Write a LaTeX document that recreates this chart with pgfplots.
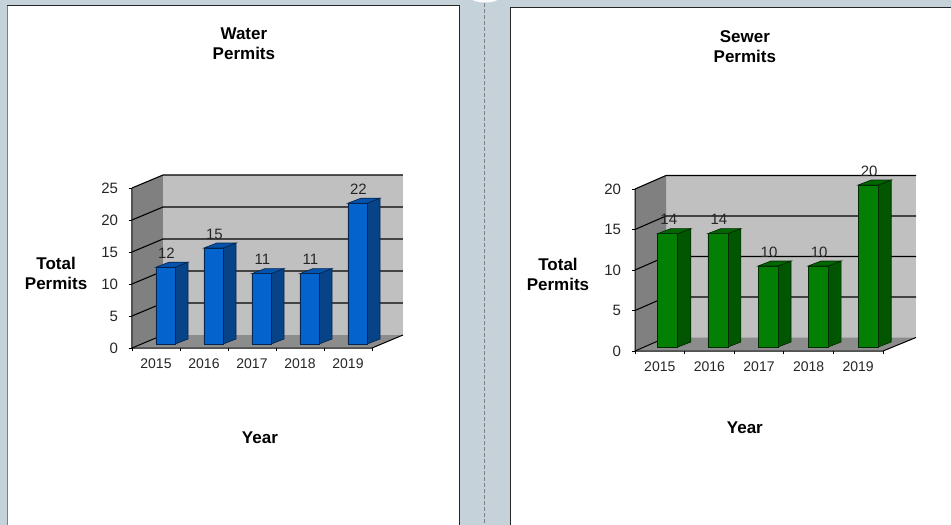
\documentclass[border=0pt]{standalone}
\usepackage{fontspec}
\setmainfont{Liberation Sans}
\usepackage{pgfplots}
\usepackage{pgfplotstable}
\pgfplotsset{compat=1.18}

\definecolor{page}{HTML}{C5D2DA}
\definecolor{wallside}{HTML}{808080}
\definecolor{wallback}{HTML}{C0C0C0}
\definecolor{wallfloor}{HTML}{8C8C8C}
\definecolor{bluefront}{HTML}{0563CE}
\definecolor{blueside}{HTML}{064389}
\definecolor{bluetop}{HTML}{0553AC}
\definecolor{blueedge}{HTML}{03264F}
\definecolor{greenfront}{HTML}{038003}
\definecolor{greenside}{HTML}{025602}
\definecolor{greentop}{HTML}{026602}
\definecolor{greenedge}{HTML}{012B01}

\pgfplotstableread{
x    v
0.5  12
1.5  15
2.5  11
3.5  11
4.5  22
}\waterdata
\pgfplotstableread{
x    v
0.5  14
1.5  14
2.5  10
3.5  10
4.5  20
}\sewerdata

% side and top face of one bar, \bw \ddx \ddy set per chart
\newcommand{\barfaces}[2]{%
  \pgfmathsetmacro\xa{#1+\bw}\pgfmathsetmacro\xb{\xa+\ddx}%
  \pgfmathsetmacro\xc{#1+\ddx}\pgfmathsetmacro\yb{#2+\ddy}%
  \edef\tmp{\noexpand\addplot[fill=\colside,draw=\coledge,line width=.5pt] coordinates
    {(\xa,0) (\xb,\ddy) (\xb,\yb) (\xa,#2)} --cycle;
    \noexpand\addplot[fill=\coltop,draw=\coledge,line width=.5pt] coordinates
    {(#1,#2) (\xc,\yb) (\xb,\yb) (\xa,#2)} --cycle;}\tmp
}
% walls of the box: front plane starts at \ylo, back plane is \wdx,\wdy behind it
\newcommand{\walls}{%
  \pgfmathsetmacro\yf{\ylo+\wdy}\pgfmathsetmacro\ytop{\yhi+\wdy}%
  \edef\tmp{\noexpand\addplot[fill=wallback,draw=none] coordinates
    {(\wdx,\yf) (\xend,\yf) (\xend,\ytop) (\wdx,\ytop)} --cycle;
    \noexpand\addplot[fill=wallside,draw=none] coordinates
    {(0,\ylo) (\wdx,\yf) (\wdx,\ytop) (0,\yhi)} --cycle;
    \noexpand\addplot[fill=wallfloor,draw=none] coordinates
    {(0,\ylo) (5,\ylo) (\xend,\yf) (\wdx,\yf)} --cycle;
    \noexpand\addplot[black,line width=.75pt] coordinates
    {(0,\yhi) (0,\ylo) (5,\ylo) (\xend,\yf)};
    \noexpand\addplot[black,line width=.75pt] coordinates
    {(0,\ylo) (\wdx,\yf)};}\tmp
}
\newcommand{\gridline}[1]{%
  \pgfmathsetmacro\yg{#1+\ylo}\pgfmathsetmacro\yh{\yg+\wdy}%
  \edef\tmp{\noexpand\addplot[black,line width=.8pt] coordinates
    {(0,\yg) (\wdx,\yh) (\xend,\yh)};}\tmp
}

\pgfplotsset{
  every axis title shift=0pt,
  chart/.style={
    scale only axis, anchor=south west, clip=false,
    axis line style={draw=none},
    /pgf/number format/assume math mode=true,
    tick style={black,line width=.6pt},
    tick align=outside, major tick length=2.5pt,
    xtick pos=lower, ytick pos=left,
    xtick={0,1,2,3,4,5}, xticklabels={,,,,,},
    extra x ticks={0.5,1.5,2.5,3.5,4.5},
    extra x tick labels={2015,2016,2017,2018,2019},
    extra x tick style={major tick length=0pt},
    xmin=0,
    tick label style={font=\fontsize{10.5}{12}\selectfont,text=black!85},
    yticklabel style={font=\fontsize{11.25}{13}\selectfont,xshift=-4.5pt},
    xticklabel style={yshift=-4.75pt},
    title style={font=\fontsize{12.75}{15}\bfseries\selectfont,align=center,anchor=center},
    every axis y label/.style={font=\fontsize{12.75}{15}\bfseries\selectfont,align=center,anchor=center},
    xlabel style={font=\fontsize{12.75}{15}\bfseries\selectfont,anchor=center},
  },
  bars/.style={
    ybar, bar width=#1, bar shift=0.5*#1,
    nodes near coords,
    every node near coord/.append style={font=\fontsize{11.25}{13}\selectfont,text=black!85,
      anchor=center,yshift=10.5pt,xshift=0.5*#1+0.75pt},
  },
}

\begin{document}
\begin{tikzpicture}
\begin{scope}[x=0.75pt,y=-0.75pt]
  \path[use as bounding box] (0,0) rectangle (951,525);
  \fill[page] (0,0) rectangle (951,525);
  \fill[white!92!page] (485,-2) ellipse (14 and 4.5);
  \fill[white] (7,5) rectangle (459,525);
  \fill[white] (510,7) rectangle (951,525);
  \draw[black!50,line width=.6pt] (7,5) -- (7,525);
  \draw[black!85,line width=.75pt] (7,5) -- (459,5) -- (459,525);
  \draw[black!85,line width=.75pt] (510,525) -- (510,7) -- (951,7);
  \draw[black!50,line width=.75pt,dash pattern=on 3pt off 1.5pt] (484.5,3) -- (484.5,525);
  \coordinate (A) at (132,348);
  \coordinate (B) at (635,351);
\end{scope}

\begin{axis}[chart, at={(A)},
    width=203.25pt, height=129.75pt,
    xmax=5.646, ymin=-0.625, ymax=26.406,
    ytick={-0.625,4.375,9.375,14.375,19.375,24.375},
    yticklabels={0,5,10,15,20,25},
    title={Water\\Permits},
    title style={at={(rel axis cs:0.413,1.757)}},
    xlabel={Year},
    xlabel style={at={(rel axis cs:0.472,-0.52)}},
    ylabel={Total\\Permits},
    every axis y label/.append style={at={(rel axis cs:-0.28,0.43)}},
  ]
  \def\ylo{-0.625}\def\yhi{24.375}\def\wdx{0.6458}\def\wdy{2.03}\def\xend{5.646}
  \walls
  \gridline{5}\gridline{10}\gridline{15}\gridline{20}\gridline{25}
  \def\bw{0.396}\def\ddx{0.271}\def\ddy{0.781}
  \def\colside{blueside}\def\coltop{bluetop}\def\coledge{blueedge}
  \barfaces{0.5}{12}\barfaces{1.5}{15}\barfaces{2.5}{11}\barfaces{3.5}{11}\barfaces{4.5}{22}
  \addplot[bars=14.25pt, fill=bluefront, draw=blueedge, line width=.5pt]
    table[x=x,y=v] {\waterdata};
\end{axis}

\begin{axis}[chart, at={(B)},
    width=210.75pt, height=131.625pt,
    xmax=5.665, ymin=-0.494, ymax=21.173,
    ytick={-0.494,4.506,9.506,14.506,19.506},
    yticklabels={0,5,10,15,20},
    title={Sewer\\Permits},
    title style={at={(rel axis cs:0.391,1.733)}},
    xlabel={Year},
    xlabel style={at={(rel axis cs:0.391,-0.44)}},
    ylabel={Total\\Permits},
    every axis y label/.append style={at={(rel axis cs:-0.274,0.4375)}},
  ]
  \def\ylo{-0.494}\def\yhi{19.506}\def\wdx{0.625}\def\wdy{1.667}\def\xend{5.665}
  \walls
  \gridline{5}\gridline{10}\gridline{15}\gridline{20}
  \def\bw{0.403}\def\ddx{0.262}\def\ddy{0.617}
  \def\colside{greenside}\def\coltop{greentop}\def\coledge{greenedge}
  \barfaces{0.46}{14}\barfaces{1.47}{14}\barfaces{2.48}{10}\barfaces{3.49}{10}\barfaces{4.5}{20}
  \addplot[bars=15pt, fill=greenfront, draw=greenedge, line width=.5pt]
    table[x expr={\thisrow{x}-0.04+0.01*\coordindex},y=v] {\sewerdata};
\end{axis}
\end{tikzpicture}
\end{document}
